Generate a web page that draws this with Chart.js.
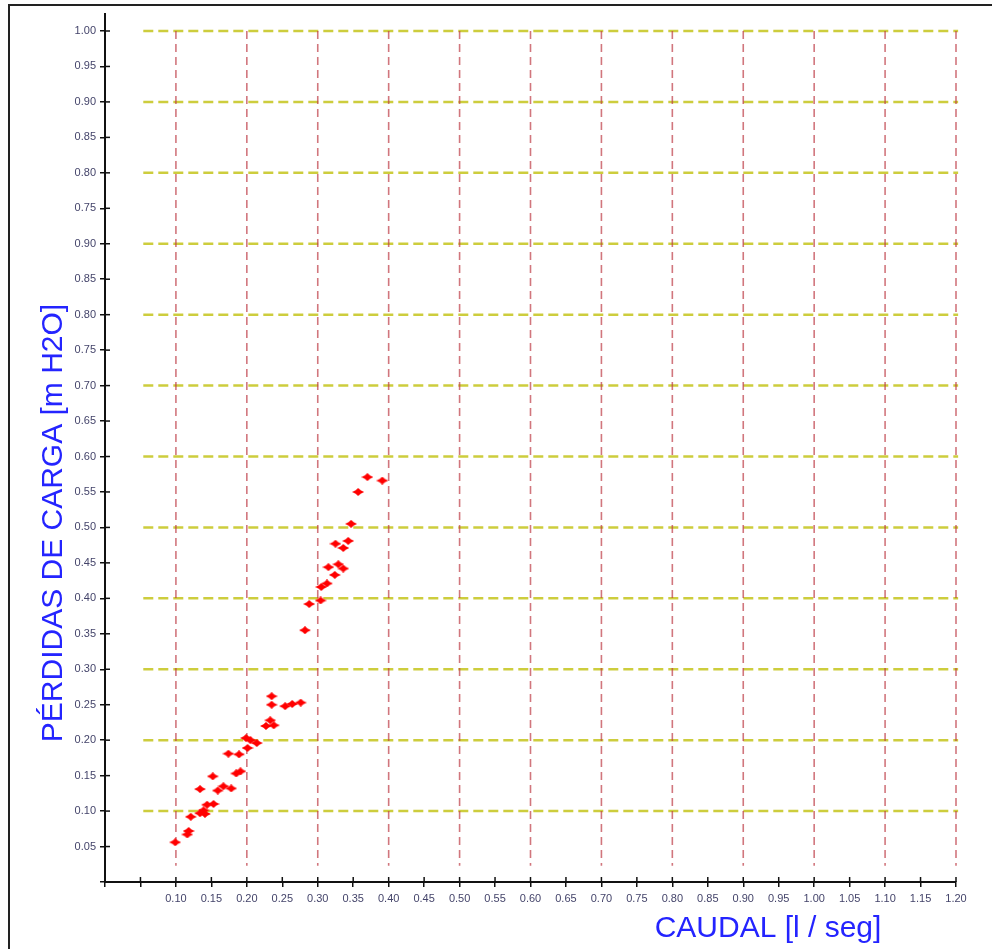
<!DOCTYPE html>
<html>
<head>
<meta charset="utf-8">
<script src="https://cdn.jsdelivr.net/npm/chart.js@4"></script>
<style>
  body { margin: 0; background: #fff; }
  canvas { display: block; }
</style>
</head>
<body>
<canvas id="myChart" width="992" height="949"></canvas>
<script>
// caudal [l/seg] vs perdidas de carga [m H2O]
var caudal = [0.370, 0.391, 0.357, 0.347, 0.343, 0.325, 0.336, 0.329, 0.336, 0.315,
              0.324, 0.313, 0.305, 0.304, 0.288, 0.282, 0.235, 0.235, 0.254, 0.264,
              0.276, 0.233, 0.227, 0.238, 0.199, 0.205, 0.214, 0.201, 0.174, 0.189,
              0.191, 0.185, 0.152, 0.134, 0.167, 0.178, 0.159, 0.153, 0.144, 0.139,
              0.141, 0.134, 0.121, 0.118, 0.116, 0.099];
var perdidas = [0.571, 0.566, 0.550, 0.505, 0.481, 0.477, 0.471, 0.448, 0.442, 0.444,
                0.433, 0.421, 0.416, 0.397, 0.392, 0.355, 0.262, 0.250, 0.248, 0.251,
                0.253, 0.228, 0.220, 0.221, 0.203, 0.200, 0.196, 0.189, 0.181, 0.180,
                0.156, 0.153, 0.149, 0.131, 0.135, 0.132, 0.129, 0.110, 0.109, 0.101,
                0.096, 0.097, 0.092, 0.072, 0.067, 0.056];

// tick labels as printed, from 0 upwards in steps of 0.05
var xTickLabels = ['', '', '0.10', '0.15', '0.20', '0.25', '0.30', '0.35', '0.40', '0.45',
                   '0.50', '0.55', '0.60', '0.65', '0.70', '0.75', '0.80', '0.85', '0.90',
                   '0.95', '1.00', '1.05', '1.10', '1.15', '1.20'];
var yTickLabels = ['', '0.05', '0.10', '0.15', '0.20', '0.25', '0.30', '0.35', '0.40', '0.45',
                   '0.50', '0.55', '0.60', '0.65', '0.70', '0.75', '0.80', '0.85', '0.90',
                   '0.75', '0.80', '0.85', '0.90', '0.95', '1.00'];

var xTitle = 'CAUDAL [l / seg]';
var yTitle = 'PÉRDIDAS DE CARGA [m H2O]';

window.addEventListener('load', setup);

function makeMarker() {
  var c = document.createElement('canvas');
  c.width = 12;
  c.height = 8;
  var g = c.getContext('2d');
  g.fillStyle = '#ff0000';
  g.beginPath();
  g.moveTo(0, 4);
  g.lineTo(3.5, 2.3);
  g.lineTo(6, 0);
  g.lineTo(8.5, 2.3);
  g.lineTo(12, 4);
  g.lineTo(8.5, 5.7);
  g.lineTo(6, 8);
  g.lineTo(3.5, 5.7);
  g.closePath();
  g.fill();
  return c;
}

var decoPlugin = {
  id: 'deco',
  beforeDatasetsDraw: function (chart) {
    var ctx = chart.ctx;
    var xs = chart.scales.x, ys = chart.scales.y;
    ctx.save();
    // horizontal dashed lines every 0.10
    ctx.strokeStyle = 'rgba(200,200,40,0.9)';
    ctx.lineWidth = 2.5;
    ctx.setLineDash([10, 5]);
    for (var v = 1; v <= 12; v++) {
      var py = ys.getPixelForValue(v / 10);
      ctx.beginPath();
      ctx.moveTo(xs.getPixelForValue(0.054), py);
      ctx.lineTo(xs.getPixelForValue(1.203), py);
      ctx.stroke();
    }
    // vertical dashed lines every 0.10
    ctx.strokeStyle = 'rgba(190,60,70,0.7)';
    ctx.lineWidth = 1.6;
    ctx.setLineDash([8, 5]);
    for (var u = 1; u <= 12; u++) {
      var px = xs.getPixelForValue(u / 10);
      ctx.beginPath();
      ctx.moveTo(px, ys.getPixelForValue(1.2));
      ctx.lineTo(px, ys.getPixelForValue(0.023));
      ctx.stroke();
    }
    ctx.restore();
  },
  afterDraw: function (chart) {
    var ctx = chart.ctx;
    var xs = chart.scales.x, ys = chart.scales.y;
    var area = chart.chartArea;
    ctx.save();
    // frame
    ctx.strokeStyle = '#222';
    ctx.lineWidth = 2;
    ctx.beginPath();
    ctx.moveTo(9, 949);
    ctx.lineTo(9, 5);
    ctx.lineTo(992, 5);
    ctx.stroke();
    // y axis runs a bit past the top
    ctx.strokeStyle = '#111';
    ctx.beginPath();
    ctx.moveTo(area.left, area.top);
    ctx.lineTo(area.left, 13);
    ctx.stroke();
    // inner half of the tick marks
    ctx.lineWidth = 1.5;
    ys.ticks.forEach(function (t) {
      if (t.value <= 0) return;
      var py = ys.getPixelForValue(t.value);
      ctx.beginPath();
      ctx.moveTo(area.left, py);
      ctx.lineTo(area.left + 5, py);
      ctx.stroke();
    });
    xs.ticks.forEach(function (t) {
      if (t.value <= 0) return;
      var px = xs.getPixelForValue(t.value);
      ctx.beginPath();
      ctx.moveTo(px, area.bottom);
      ctx.lineTo(px, area.bottom - 5);
      ctx.stroke();
    });
    // titles
    ctx.fillStyle = '#2424ff';
    ctx.font = '30px "Liberation Sans", Arial, sans-serif';
    ctx.textAlign = 'center';
    ctx.textBaseline = 'alphabetic';
    ctx.fillText(xTitle, 768, 937);
    ctx.translate(62, 523);
    ctx.rotate(-Math.PI / 2);
    ctx.fillText(yTitle, 0, 0);
    ctx.restore();
  }
};

function setup() {
  var ctx = document.getElementById('myChart').getContext('2d');
  var points = [];
  for (var i = 0; i < caudal.length; i++) {
    points.push({ x: caudal[i], y: perdidas[i] });
  }
  var tickFont = { family: '"Liberation Sans", Arial, sans-serif', size: 11 };

  var myChart = new Chart(ctx, {
    type: 'scatter',
    data: {
      datasets: [
        {
          label: 'perdidas',
          data: points,
          pointStyle: makeMarker(),
          pointRadius: 4,
          borderColor: '#ff0000',
          backgroundColor: '#ff0000'
        }
      ]
    },
    options: {
      responsive: false,
      animation: false,
      layout: { padding: { left: 0, top: 31, right: 36, bottom: 0 } },
      plugins: { legend: { display: false }, tooltip: { enabled: false } },
      scales: {
        x: {
          type: 'linear',
          min: 0,
          max: 1.2,
          border: { display: true, color: '#111', width: 2 },
          grid: { drawOnChartArea: false, color: '#111', lineWidth: 1.5, tickLength: 5 },
          ticks: {
            stepSize: 0.05,
            autoSkip: false,
            maxRotation: 0,
            padding: 5,
            color: '#44446a',
            font: tickFont,
            callback: function (value) {
              return xTickLabels[Math.round(value / 0.05)];
            }
          },
          afterFit: function (scale) {
            scale.height = 67;
            scale.paddingLeft = 0;
            scale.paddingRight = 0;
          }
        },
        y: {
          type: 'linear',
          min: 0,
          max: 1.2,
          border: { display: true, color: '#111', width: 2 },
          grid: { drawOnChartArea: false, color: '#111', lineWidth: 1.5, tickLength: 5 },
          ticks: {
            stepSize: 0.05,
            autoSkip: false,
            padding: 4,
            color: '#44446a',
            font: tickFont,
            callback: function (value) {
              return yTickLabels[Math.round(value / 0.05)];
            }
          },
          afterFit: function (scale) {
            scale.width = 105;
            scale.paddingTop = 0;
            scale.paddingBottom = 0;
          }
        }
      }
    },
    plugins: [decoPlugin]
  });
}
</script>
</body>
</html>
